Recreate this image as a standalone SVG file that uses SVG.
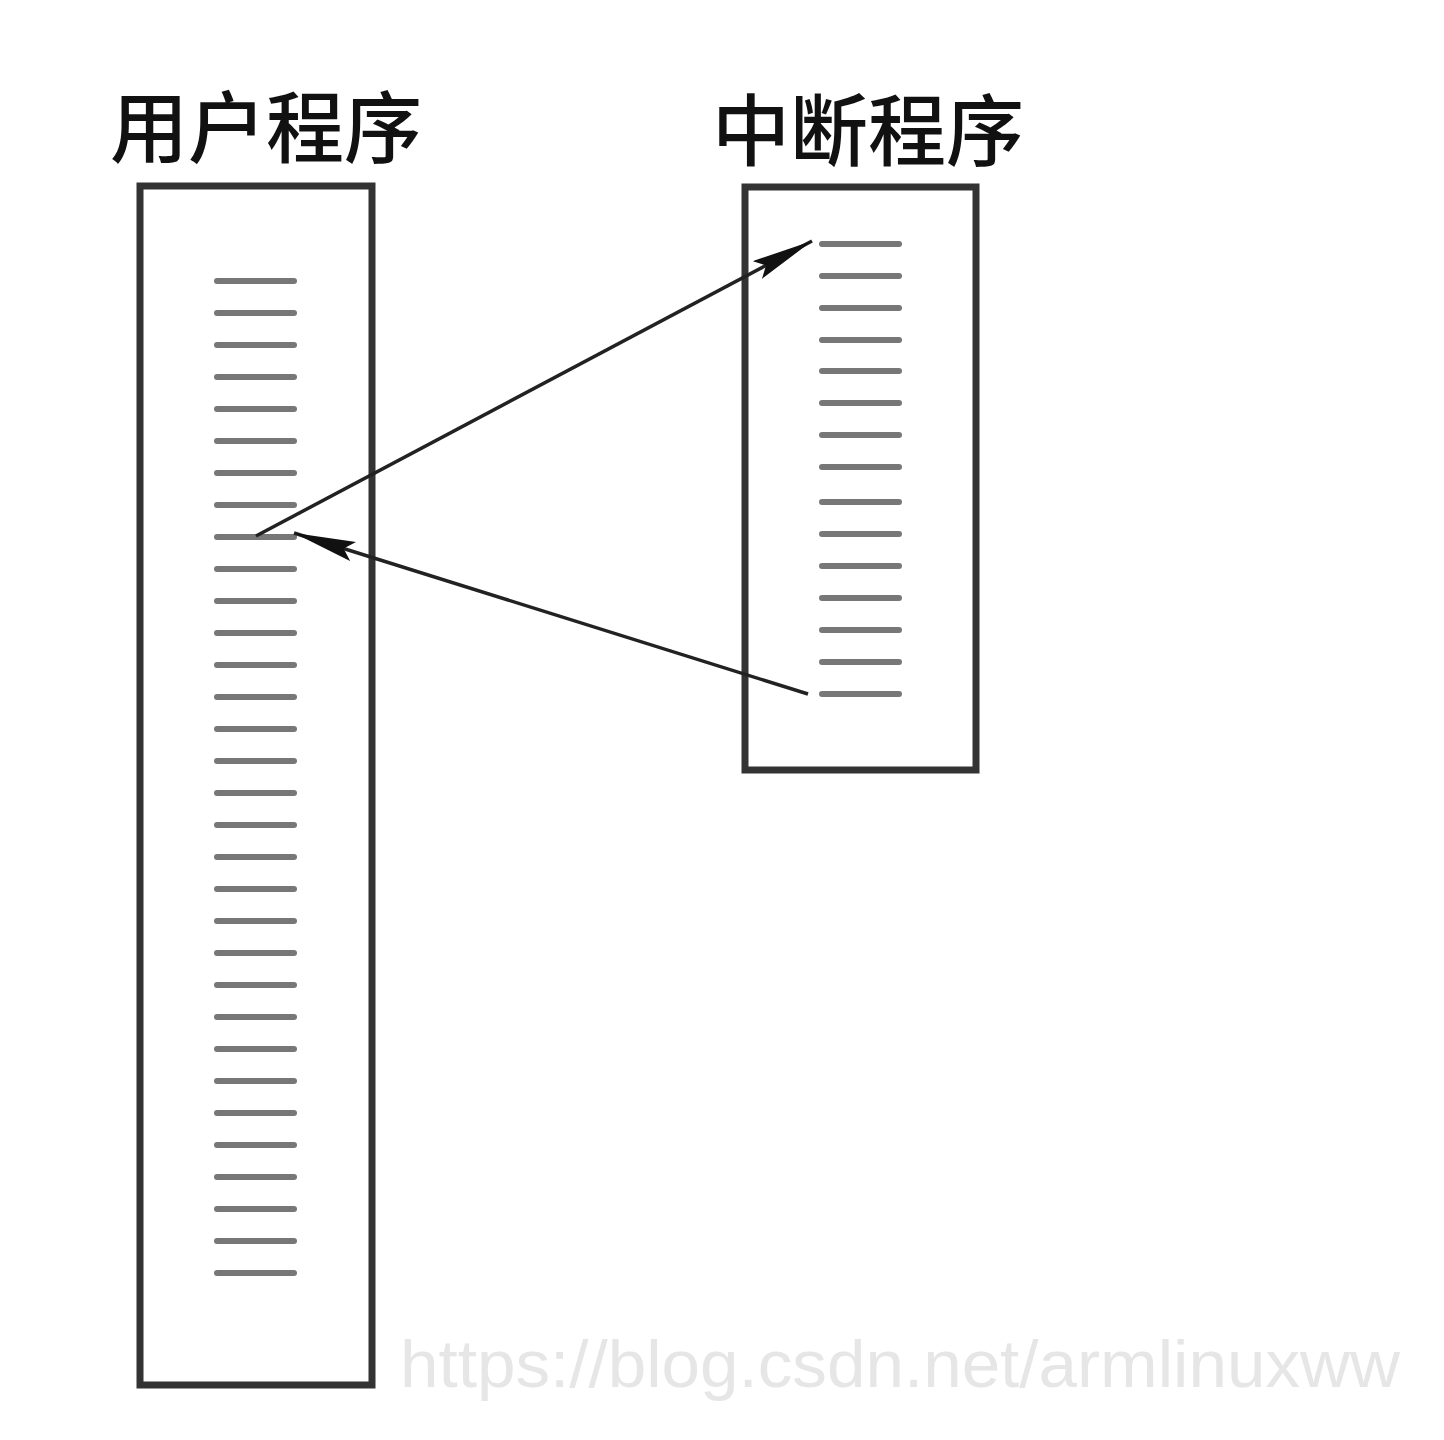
<svg xmlns="http://www.w3.org/2000/svg" width="1444" height="1440" viewBox="0 0 1444 1440">
<defs>
<style>
.box{fill:#fff;stroke:#333;stroke-width:7}
.ln{stroke:#777;stroke-width:6;stroke-linecap:round}
.title{font-family:"Noto Sans CJK SC","Noto Sans CJK JP",sans-serif;font-size:78px;fill:#111;font-weight:500}
.arrow{stroke:#222;stroke-width:3.5;fill:none}
.wm{font-family:"Liberation Sans",Arial,sans-serif;font-size:66px;fill:#e6e6e6}
</style>
<marker id="ah" viewBox="0 0 62 20" refX="62" refY="10" markerWidth="62" markerHeight="20" markerUnits="userSpaceOnUse" orient="auto">
<path d="M0,0 L62,10 L0,20 L10,10 Z" fill="#111"/>
</marker>
</defs>
<rect width="1444" height="1440" fill="#fff"/>
<g id="user-program">
<text class="title" x="110" y="157">用户程序</text>
<rect class="box" x="140" y="186" width="232" height="1199"/>
<g class="lines">
<line class="ln" x1="217" y1="281" x2="294" y2="281"/>
<line class="ln" x1="217" y1="313" x2="294" y2="313"/>
<line class="ln" x1="217" y1="345" x2="294" y2="345"/>
<line class="ln" x1="217" y1="377" x2="294" y2="377"/>
<line class="ln" x1="217" y1="409" x2="294" y2="409"/>
<line class="ln" x1="217" y1="441" x2="294" y2="441"/>
<line class="ln" x1="217" y1="473" x2="294" y2="473"/>
<line class="ln" x1="217" y1="505" x2="294" y2="505"/>
<line class="ln" x1="217" y1="537" x2="294" y2="537"/>
<line class="ln" x1="217" y1="569" x2="294" y2="569"/>
<line class="ln" x1="217" y1="601" x2="294" y2="601"/>
<line class="ln" x1="217" y1="633" x2="294" y2="633"/>
<line class="ln" x1="217" y1="665" x2="294" y2="665"/>
<line class="ln" x1="217" y1="697" x2="294" y2="697"/>
<line class="ln" x1="217" y1="729" x2="294" y2="729"/>
<line class="ln" x1="217" y1="761" x2="294" y2="761"/>
<line class="ln" x1="217" y1="793" x2="294" y2="793"/>
<line class="ln" x1="217" y1="825" x2="294" y2="825"/>
<line class="ln" x1="217" y1="857" x2="294" y2="857"/>
<line class="ln" x1="217" y1="889" x2="294" y2="889"/>
<line class="ln" x1="217" y1="921" x2="294" y2="921"/>
<line class="ln" x1="217" y1="953" x2="294" y2="953"/>
<line class="ln" x1="217" y1="985" x2="294" y2="985"/>
<line class="ln" x1="217" y1="1017" x2="294" y2="1017"/>
<line class="ln" x1="217" y1="1049" x2="294" y2="1049"/>
<line class="ln" x1="217" y1="1081" x2="294" y2="1081"/>
<line class="ln" x1="217" y1="1113" x2="294" y2="1113"/>
<line class="ln" x1="217" y1="1145" x2="294" y2="1145"/>
<line class="ln" x1="217" y1="1177" x2="294" y2="1177"/>
<line class="ln" x1="217" y1="1209" x2="294" y2="1209"/>
<line class="ln" x1="217" y1="1241" x2="294" y2="1241"/>
<line class="ln" x1="217" y1="1273" x2="294" y2="1273"/>
</g>
</g>
<g id="interrupt-program">
<text class="title" x="712" y="160">中断程序</text>
<rect class="box" x="745" y="187" width="231" height="583"/>
<g class="lines">
<line class="ln" x1="822" y1="244" x2="899" y2="244"/>
<line class="ln" x1="822" y1="276" x2="899" y2="276"/>
<line class="ln" x1="822" y1="308" x2="899" y2="308"/>
<line class="ln" x1="822" y1="340" x2="899" y2="340"/>
<line class="ln" x1="822" y1="371" x2="899" y2="371"/>
<line class="ln" x1="822" y1="403" x2="899" y2="403"/>
<line class="ln" x1="822" y1="435" x2="899" y2="435"/>
<line class="ln" x1="822" y1="467" x2="899" y2="467"/>
<line class="ln" x1="822" y1="502" x2="899" y2="502"/>
<line class="ln" x1="822" y1="534" x2="899" y2="534"/>
<line class="ln" x1="822" y1="566" x2="899" y2="566"/>
<line class="ln" x1="822" y1="598" x2="899" y2="598"/>
<line class="ln" x1="822" y1="630" x2="899" y2="630"/>
<line class="ln" x1="822" y1="662" x2="899" y2="662"/>
<line class="ln" x1="822" y1="694" x2="899" y2="694"/>
</g>
</g>
<g id="connectors">
<line class="arrow" x1="256" y1="536" x2="812" y2="241" marker-end="url(#ah)"/>
<line class="arrow" x1="808" y1="694" x2="294" y2="533" marker-end="url(#ah)"/>
</g>
<text class="wm" x="400" y="1387" textLength="1000" lengthAdjust="spacingAndGlyphs">https://blog.csdn.net/armlinuxww</text>
</svg>
